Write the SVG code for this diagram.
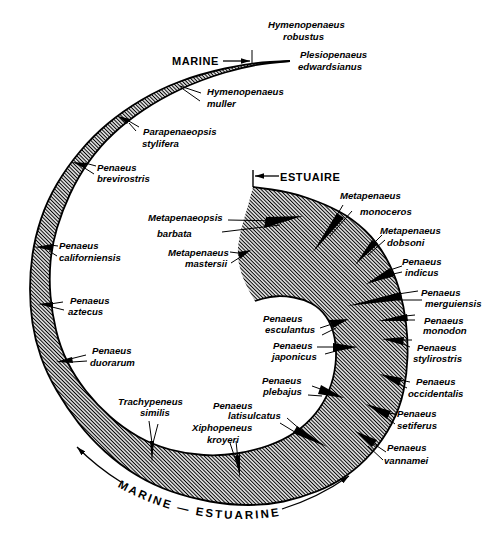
<svg xmlns="http://www.w3.org/2000/svg" width="500" height="533" viewBox="0 0 500 533">
<defs>
<pattern id="hatch" width="2.6" height="2.6" patternUnits="userSpaceOnUse" patternTransform="rotate(45)">
<line x1="0" y1="1.3" x2="2.6" y2="1.3" stroke="#000" stroke-width="1.15"/>
</pattern>
<marker id="ah" viewBox="0 0 10 6" refX="10" refY="3" markerWidth="9" markerHeight="5.5" orient="auto" markerUnits="userSpaceOnUse"><path d="M0,0 L10,3 L0,6 Z" fill="#000"/></marker>
<path id="txtArc" d="M24.4,394.5 A249,249 0 0,0 400.1,460.7"/>
</defs>
<style>
.lbl{font-family:"Liberation Sans",Arial,sans-serif;font-size:9.6px;font-weight:bold;font-style:italic;fill:#000}
.cap{font-family:"Liberation Sans",Arial,sans-serif;font-size:11px;font-weight:bold;letter-spacing:0.6px;fill:#000}
.arc{font-family:"Liberation Sans",Arial,sans-serif;font-size:11.5px;font-weight:bold;letter-spacing:2.2px;fill:#000}
.edge{fill:none;stroke:#000;stroke-width:1.8;stroke-linejoin:round}
.ld{stroke:#000;stroke-width:1;fill:none}
.wd{fill:#000}
.arw{stroke:#000;stroke-width:1.3;fill:none}
</style>
<rect width="500" height="533" fill="#fff"/>

<g id="spiral">
<path fill="url(#hatch)" d="M290,61 L270,62 Q250,63 225,68.5 Q200,74 180,81.5 Q160,89 141.5,100 Q123,111 108,123.5 Q93,136 80,151.5 Q67,167 57,184 Q47,201 41,219 Q35,237 32.5,254.5 Q30,272 30,289 Q30,306 32.5,323 Q35,340 41,357 Q47,374 57,391 Q67,408 78.5,423 Q90,438 105,451.5 Q120,465 136.5,475 Q153,485 171.5,491.5 Q190,498 210,501.5 Q230,505 248.5,505 Q267,505 283.5,501.5 Q300,498 316.5,491.5 Q333,485 346.5,475.5 Q360,466 371.5,453 Q383,440 391.5,424 Q400,408 403.5,391 Q407,374 407.5,357 Q408,340 406,323 Q404,306 399,289 Q394,272 385.5,257 Q377,242 365,230.5 Q353,219 339,211.5 Q325,204 307.5,198 Q290,192 271.5,189.5 L253,187 L250.5,196.5 Q248,206 244,219 Q240,232 238.5,243 Q237,254 239,264 Q241,274 245,282.5 Q249,291 252,296 L255,301 L262.5,298.75 Q270,296.5 277.5,296.25 Q285,296 294,297.5 Q303,299 311.5,303.5 Q320,308 326,316.5 Q332,325 334.5,337.5 Q337,350 335.5,364 Q334,378 329,390.5 Q324,403 315.5,413.5 Q307,424 295.5,432 Q284,440 268.5,445.5 Q253,451 236.5,453.5 Q220,456 203.5,455 Q187,454 170,449.5 Q153,445 138,436.5 Q123,428 110,416.5 Q97,405 86,391 Q75,377 67.5,362 Q60,347 56,330 Q52,313 50.5,296 Q49,279 50.5,262 Q52,245 57,228 Q62,211 70,194 Q78,177 89,161.5 Q100,146 113.5,133.5 Q127,121 143.5,110 Q160,99 180,89.5 Q200,80 225,72.5 Q250,65 270,63 L290,61 Z"/>
<path class="edge" d="M290,61 L270,62 Q250,63 225,68.5 Q200,74 180,81.5 Q160,89 141.5,100 Q123,111 108,123.5 Q93,136 80,151.5 Q67,167 57,184 Q47,201 41,219 Q35,237 32.5,254.5 Q30,272 30,289 Q30,306 32.5,323 Q35,340 41,357 Q47,374 57,391 Q67,408 78.5,423 Q90,438 105,451.5 Q120,465 136.5,475 Q153,485 171.5,491.5 Q190,498 210,501.5 Q230,505 248.5,505 Q267,505 283.5,501.5 Q300,498 316.5,491.5 Q333,485 346.5,475.5 Q360,466 371.5,453 Q383,440 391.5,424 Q400,408 403.5,391 Q407,374 407.5,357 Q408,340 406,323 Q404,306 399,289 Q394,272 385.5,257 Q377,242 365,230.5 Q353,219 339,211.5 Q325,204 307.5,198 Q290,192 271.5,189.5 L253,187"/>
<path class="edge" d="M255,301 L262.5,298.75 Q270,296.5 277.5,296.25 Q285,296 294,297.5 Q303,299 311.5,303.5 Q320,308 326,316.5 Q332,325 334.5,337.5 Q337,350 335.5,364 Q334,378 329,390.5 Q324,403 315.5,413.5 Q307,424 295.5,432 Q284,440 268.5,445.5 Q253,451 236.5,453.5 Q220,456 203.5,455 Q187,454 170,449.5 Q153,445 138,436.5 Q123,428 110,416.5 Q97,405 86,391 Q75,377 67.5,362 Q60,347 56,330 Q52,313 50.5,296 Q49,279 50.5,262 Q52,245 57,228 Q62,211 70,194 Q78,177 89,161.5 Q100,146 113.5,133.5 Q127,121 143.5,110 Q160,99 180,89.5 Q200,80 225,72.5 Q250,65 270,63 L290,61"/>
</g>

<g id="connectors">
<line class="ld" x1="252" y1="50" x2="252" y2="63"/>
<line class="ld" x1="253" y1="170" x2="253" y2="187" style="stroke-width:1.4"/>
<line class="arw" x1="223" y1="61" x2="250" y2="61" marker-end="url(#ah)"/>
<line class="arw" x1="279" y1="176" x2="255" y2="176" marker-end="url(#ah)"/>
<path class="arw" d="M121,482 A242,242 0 0,1 77,447" marker-end="url(#ah)"/>
<path class="arw" d="M282,509 A240,240 0 0,0 349,476" marker-end="url(#ah)"/>
<line class="ld" x1="180" y1="86" x2="201" y2="93"/>
<line class="ld" x1="183" y1="89" x2="200" y2="101"/>
<line class="ld" x1="127" y1="120" x2="139" y2="127"/>
<line class="ld" x1="129" y1="123" x2="136" y2="131"/>
<line class="ld" x1="85" y1="163" x2="96" y2="166"/>
<line class="ld" x1="83" y1="167" x2="94" y2="174"/>
<line class="ld" x1="50" y1="245" x2="58" y2="246"/>
<line class="ld" x1="49" y1="251" x2="57" y2="256"/>
<line class="ld" x1="50" y1="304" x2="63" y2="302"/>
<line class="ld" x1="52" y1="307" x2="64" y2="310"/>
<line class="ld" x1="70" y1="359" x2="86" y2="355"/>
<line class="ld" x1="72" y1="362" x2="87" y2="361"/>
<line class="ld" x1="149" y1="421" x2="152" y2="443"/>
<line class="ld" x1="158" y1="424" x2="153" y2="443"/>
<line class="ld" x1="230" y1="443" x2="239" y2="470"/>
<line class="ld" x1="236" y1="441" x2="239" y2="470"/>
<line class="ld" x1="287" y1="418" x2="302" y2="431"/>
<line class="ld" x1="280" y1="423" x2="298" y2="434"/>
<line class="ld" x1="312" y1="386" x2="326" y2="391"/>
<line class="ld" x1="308" y1="395" x2="322" y2="396"/>
<line class="ld" x1="317" y1="347" x2="335" y2="347"/>
<line class="ld" x1="325" y1="354" x2="336" y2="351"/>
<line class="ld" x1="320" y1="328" x2="335" y2="323"/>
<line class="ld" x1="322" y1="335" x2="336" y2="328"/>
<line class="ld" x1="228" y1="220" x2="282" y2="221"/>
<line class="ld" x1="222" y1="232" x2="280" y2="225"/>
<line class="ld" x1="230" y1="252" x2="242" y2="253.5"/>
<line class="ld" x1="231" y1="263" x2="242" y2="256"/>
<line class="ld" x1="343" y1="205" x2="325" y2="235"/>
<line class="ld" x1="352" y1="211" x2="330" y2="236"/>
<line class="ld" x1="382" y1="235" x2="365" y2="252"/>
<line class="ld" x1="385" y1="240" x2="368" y2="255"/>
<line class="ld" x1="390" y1="270" x2="402" y2="266"/>
<line class="ld" x1="393" y1="274" x2="402" y2="272"/>
<line class="ld" x1="398" y1="294" x2="418" y2="291"/>
<line class="ld" x1="398" y1="300" x2="422" y2="300"/>
<line class="ld" x1="405" y1="316" x2="415" y2="315"/>
<line class="ld" x1="405" y1="320" x2="415" y2="320"/>
<line class="ld" x1="403" y1="340" x2="412" y2="340"/>
<line class="ld" x1="403" y1="344" x2="410" y2="347"/>
<line class="ld" x1="400" y1="380" x2="410" y2="382"/>
<line class="ld" x1="399" y1="384" x2="407" y2="388"/>
<line class="ld" x1="388" y1="413" x2="396" y2="414"/>
<line class="ld" x1="386" y1="417" x2="395" y2="424"/>
<line class="ld" x1="368" y1="440" x2="386" y2="452"/>
<line class="ld" x1="368" y1="446" x2="383" y2="460"/>
</g>

<g id="marine-top"><text class="cap" x="172" y="65">MARINE</text></g>
<g id="estuaire"><text class="cap" x="280" y="180.5">ESTUAIRE</text></g>
<g id="marine-estuarine"><text class="arc"><textPath href="#txtArc" startOffset="50%" text-anchor="middle">MARINE — ESTUARINE</textPath></text></g>

<g id="h-robustus"><text class="lbl" x="268" y="28">Hymenopenaeus</text><text class="lbl" x="283" y="39.5">robustus</text></g>
<g id="p-edwardsianus"><text class="lbl" x="300" y="58">Plesiopenaeus</text><text class="lbl" x="298" y="70">edwardsianus</text></g>
<g id="h-muller"><text class="lbl" x="207" y="94.5">Hymenopenaeus</text><text class="lbl" x="207" y="106.5">muller</text></g>
<g id="p-stylifera"><polygon class="wd" points="118,116 130,119 127,124"/><text class="lbl" x="143" y="134.5">Parapenaeopsis</text><text class="lbl" x="142" y="146.5">stylifera</text></g>
<g id="p-brevirostris"><polygon class="wd" points="72,162 87,163 84,168"/><text class="lbl" x="97" y="170.5">Penaeus</text><text class="lbl" x="97" y="182">brevirostris</text></g>
<g id="p-californiensis"><polygon class="wd" points="35,247 53,244 53,251"/><text class="lbl" x="59" y="249">Penaeus</text><text class="lbl" x="59" y="260.5">californiensis</text></g>
<g id="p-aztecus"><polygon class="wd" points="38,304 53,302 53,308"/><text class="lbl" x="70" y="303.5">Penaeus</text><text class="lbl" x="68" y="314.5">aztecus</text></g>
<g id="p-duorarum"><polygon class="wd" points="56,362 72,357 73,363"/><text class="lbl" x="92" y="353.5">Penaeus</text><text class="lbl" x="90" y="365.5">duorarum</text></g>
<g id="t-similis"><polygon class="wd" points="152,463 150,441 154,441"/><text class="lbl" x="118" y="404.5">Trachypeneus</text><text class="lbl" x="140" y="416">similis</text></g>
<g id="x-kroyeri"><polygon class="wd" points="240,478 235,456 240,455"/><text class="lbl" x="192" y="430.5">Xiphopeneus</text><text class="lbl" x="207" y="442.5">kroyeri</text></g>
<g id="p-latisulcatus"><polygon class="wd" points="327,447 297,426 293,433"/><text class="lbl" x="213" y="408.5">Penaeus</text><text class="lbl" x="228" y="418.5">latisulcatus</text></g>
<g id="p-plebajus"><polygon class="wd" points="344,398 321,385 318,394"/><text class="lbl" x="262" y="383.5">Penaeus</text><text class="lbl" x="263" y="394.5">plebajus</text></g>
<g id="p-japonicus"><polygon class="wd" points="358,347 333,343 333,352"/><text class="lbl" x="273" y="348.5">Penaeus</text><text class="lbl" x="272" y="360">japonicus</text></g>
<g id="p-esculantus"><polygon class="wd" points="349,319 329,320 333,328"/><text class="lbl" x="263" y="321.5">Penaeus</text><text class="lbl" x="265" y="332.5">esculantus</text></g>
<g id="m-barbata"><polygon class="wd" points="303,216 266,217 264,228"/><text class="lbl" x="148" y="220.5">Metapenaeopsis</text><text class="lbl" x="157" y="236.5">barbata</text></g>
<g id="m-mastersii"><polygon class="wd" points="251,250 238,252 240,259"/><text class="lbl" x="168" y="255.5">Metapenaeus</text><text class="lbl" x="185" y="267">mastersii</text></g>
<g id="m-monoceros"><polygon class="wd" points="313,252 337,213 344,218"/><text class="lbl" x="340" y="199">Metapenaeus</text><text class="lbl" x="360" y="214.5">monoceros</text></g>
<g id="m-dobsoni"><polygon class="wd" points="355,265 372,240 378,244"/><text class="lbl" x="380" y="233.5">Metapenaeus</text><text class="lbl" x="387" y="245.5">dobsoni</text></g>
<g id="p-indicus"><polygon class="wd" points="366,284 390,268 395,276"/><text class="lbl" x="402" y="264.5">Penaeus</text><text class="lbl" x="405" y="275.5">indicus</text></g>
<g id="p-merguiensis"><polygon class="wd" points="347,306 401,292 402,300"/><text class="lbl" x="421" y="295.5">Penaeus</text><text class="lbl" x="425" y="306.5">merguiensis</text></g>
<g id="p-monodon"><polygon class="wd" points="378,321 407,314 408,321"/><text class="lbl" x="424" y="323.5">Penaeus</text><text class="lbl" x="423" y="334">monodon</text></g>
<g id="p-stylirostris"><polygon class="wd" points="382,339 404,337 403,345"/><text class="lbl" x="417" y="350.5">Penaeus</text><text class="lbl" x="413" y="361.5">stylirostris</text></g>
<g id="p-occidentalis"><polygon class="wd" points="380,374 402,378 399,386"/><text class="lbl" x="416" y="385">Penaeus</text><text class="lbl" x="408" y="397">occidentalis</text></g>
<g id="p-setiferus"><polygon class="wd" points="366,404 391,411 387,419"/><text class="lbl" x="397" y="416.5">Penaeus</text><text class="lbl" x="397" y="428.5">setiferus</text></g>
<g id="p-vannamei"><polygon class="wd" points="355,431 377,440 372,447"/><text class="lbl" x="387" y="451">Penaeus</text><text class="lbl" x="384" y="463.5">vannamei</text></g>
</svg>
